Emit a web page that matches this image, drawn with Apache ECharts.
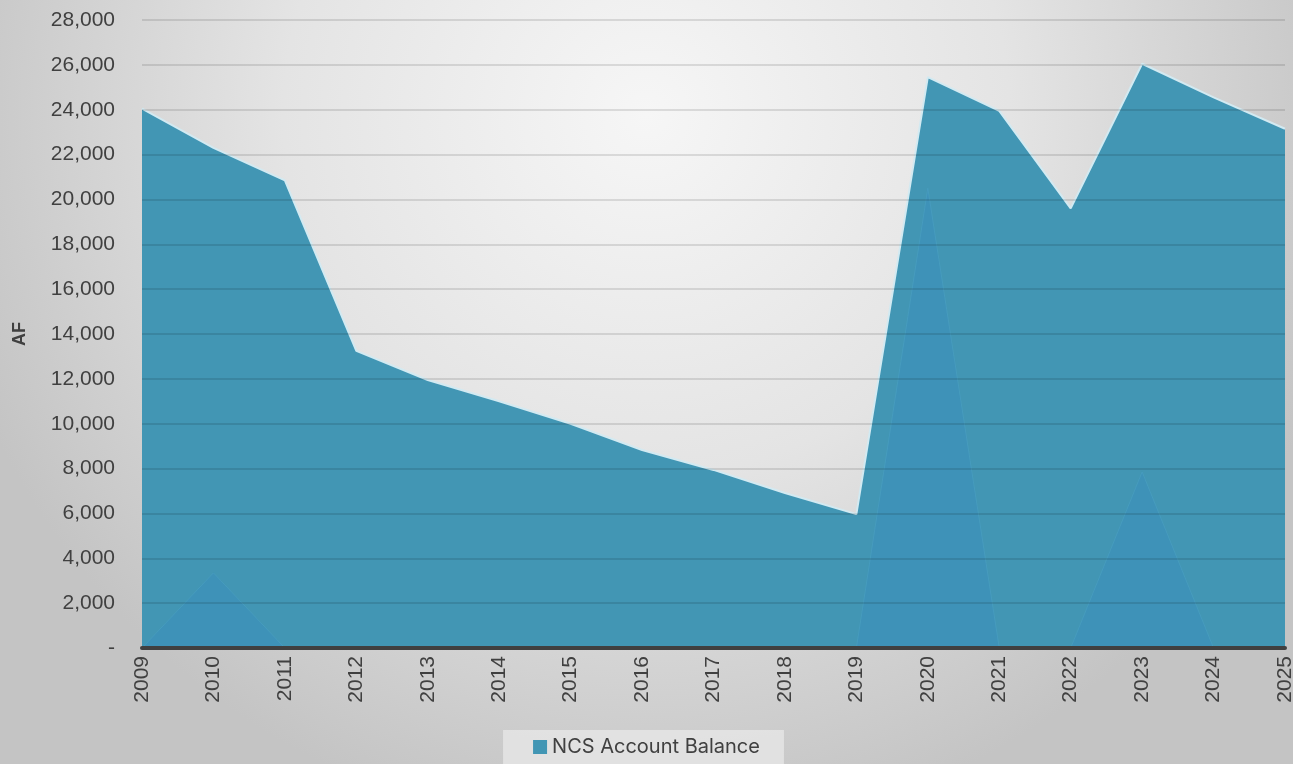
<!DOCTYPE html>
<html><head><meta charset="utf-8">
<script src="https://cdn.jsdelivr.net/npm/echarts@6/dist/echarts.min.js"></script>
<style>html,body{margin:0;padding:0;}#c{width:1293px;height:764px;}</style>
</head><body><div id="c"></div>
<script>
const years = ['2009','2010','2011','2012','2013','2014','2015','2016','2017','2018','2019','2020','2021','2022','2023','2024','2025'];
const balance = [24050,22300,20850,13250,11950,11000,10000,8830,7940,6910,5970,25450,23950,19600,26050,24550,23150];
const deposits = [0,3350,0,0,0,0,0,0,0,0,0,20500,0,0,7850,0,0];
const yTicks = {min:0, max:28000, interval:2000};

const chart = echarts.init(document.getElementById('c'));
chart.setOption({
  backgroundColor: {type:'radial', x:0.5, y:0.15, r:0.95, colorStops:[{offset:0,color:'#f6f6f6'},{offset:0.5,color:'#e4e4e4'},{offset:1,color:'#c4c4c4'}]},
  animation:false,
  textStyle:{fontFamily:'Liberation Sans, Arial, sans-serif'},
  grid:{left:142,right:8,top:20,bottom:116,containLabel:false,outerBoundsMode:'none'},
  legend:{
    data:['NCS Account Balance'], bottom:0, left:'center',
    itemWidth:14, itemHeight:14, icon:'rect', itemGap:4,
    padding:[7,24,7,30],
    backgroundColor:'rgba(232,232,232,0.75)',
    textStyle:{fontSize:20,color:'#404040',fontFamily:'Inter, Liberation Sans, sans-serif'}
  },
  xAxis:{
    type:'category', data:years, boundaryGap:false, z:10,
    axisLine:{show:true,lineStyle:{color:'#404040',width:4}},
    axisTick:{show:false},
    axisLabel:{rotate:90,fontSize:21,color:'#404040',margin:8},
    splitLine:{show:false}
  },
  yAxis:{
    type:'value', min:yTicks.min, max:yTicks.max, interval:yTicks.interval, z:10,
    name:'AF', nameLocation:'middle', nameGap:113, nameRotate:90,
    nameTextStyle:{fontSize:18,fontWeight:'bold',color:'#404040',fontFamily:'Liberation Sans, Arial, sans-serif'},
    axisLine:{show:false}, axisTick:{show:false},
    axisLabel:{fontSize:21,color:'#404040',margin:27,
      formatter:v=> v===0 ? '-' : v.toLocaleString('en-US')},
    splitLine:{lineStyle:{color:'rgba(0,0,0,0.11)',width:2}}
  },
  series:[
    {name:'NCS Account Balance', type:'line', data:balance, symbol:'none',
     lineStyle:{color:'#d2eaf2',width:2},
     itemStyle:{color:'#4296b4'},
     areaStyle:{color:'#4296b4',opacity:1}, z:2},
    {name:'Deposits', type:'line', data:deposits, symbol:'none',
     lineStyle:{color:'rgba(75,160,195,0.6)',width:1},
     itemStyle:{color:'#3a90bc'},
     areaStyle:{color:'#3a8fbd',opacity:0.45}, z:3}
  ]
});
</script></body></html>
